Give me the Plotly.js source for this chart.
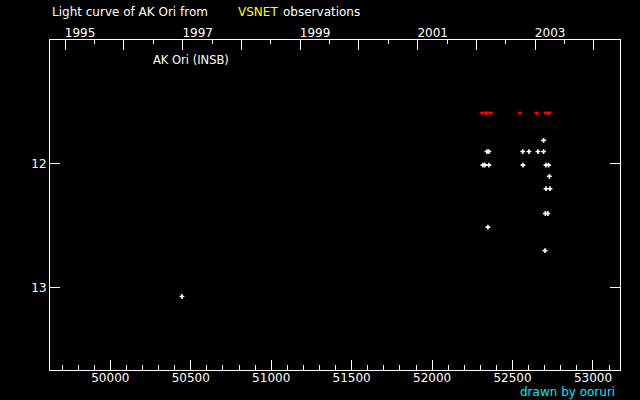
<!DOCTYPE html>
<html>
<head>
<meta charset="utf-8">
<script src="https://cdn.plot.ly/plotly-3.0.1.min.js"></script>
<style>html,body{margin:0;padding:0;background:#000;}#chart{width:640px;height:400px;}</style>
</head>
<body>
<div id="chart"></div>
<script>
// Observations (JD - 2400000, visual magnitude)
var obsJD  = [50445, 52693, 52341, 52353, 52563, 52602, 52658, 52693, 52316, 52328, 52353, 52565, 52708, 52724, 52729, 52708, 52733, 52704, 52720, 52347, 52702];
var obsMag = [13.07, 11.81, 11.90, 11.90, 11.90, 11.90, 11.90, 11.90, 12.01, 12.01, 12.01, 12.01, 12.01, 12.01, 12.10, 12.20, 12.20, 12.40, 12.40, 12.51, 12.70];
// Fainter-than (upper limit) observations
var limJD  = [52310, 52333, 52342, 52364, 52546, 52650, 52706, 52720, 52728];
var limMag = [11.59, 11.59, 11.59, 11.59, 11.59, 11.59, 11.59, 11.59, 11.59];
// Year axis
var yearJD    = [49718.5, 50083.5, 50449.5, 50814.5, 51179.5, 51544.5, 51910.5, 52275.5, 52640.5, 53005.5];
var yearText  = ['1995', '', '1997', '', '1999', '', '2001', '', '2003', ''];
var halfYearJD = [49900, 50266, 50632, 50997, 51362, 51727, 52093, 52458, 52823];
var magTicks = [12, 13];
var magTickText = ['12', '13'];

var xr = [49625, 53168];
var fnt = {family: 'DejaVu Sans, sans-serif', size: 12, color: '#ffffff'};

var traces = [
  {x: limJD, y: limMag, type: 'scatter', mode: 'markers',
   marker: {symbol: 'triangle-down', size: 5, color: '#ff0000', line: {width: 0}},
   hoverinfo: 'none', showlegend: false},
  {x: obsJD, y: obsMag, type: 'scatter', mode: 'markers',
   marker: {symbol: 'cross', size: 4, color: '#ffffff', line: {width: 0}},
   hoverinfo: 'none', showlegend: false},
  {x: [xr[0]], y: [13.5], xaxis: 'x2', yaxis: 'y', type: 'scatter', mode: 'markers',
   marker: {opacity: 0}, hoverinfo: 'none', showlegend: false}
];

var layout = {
  width: 640, height: 400,
  margin: {l: 50, r: 20, t: 40, b: 30},
  paper_bgcolor: '#000000', plot_bgcolor: '#000000',
  font: fnt,
  showlegend: false,
  xaxis: {
    range: xr, showgrid: false, zeroline: false,
    showline: true, linecolor: '#ffffff', linewidth: 1, mirror: true,
    ticks: 'inside', ticklen: 10, tickcolor: '#ffffff', tickwidth: 1,
    tickmode: 'linear', tick0: 50000, dtick: 500, tickformat: 'd',
    ticklabelstandoff: -3,
    minor: {ticks: 'inside', ticklen: 5, tickcolor: '#ffffff', dtick: 100, tick0: 50000, showgrid: false},
    tickfont: fnt
  },
  xaxis2: {
    range: xr, overlaying: 'x', side: 'top', anchor: 'y',
    showgrid: false, zeroline: false, showline: false,
    ticks: 'inside', ticklen: 10, tickcolor: '#ffffff', tickwidth: 1,
    tickmode: 'array', tickvals: yearJD, ticktext: yearText,
    ticklabelshift: 15,
    minor: {ticks: 'inside', ticklen: 4, tickcolor: '#ffffff', tickvals: halfYearJD, showgrid: false},
    tickfont: fnt
  },
  yaxis: {
    range: [13.663, 11.0], showgrid: false, zeroline: false,
    showline: true, linecolor: '#ffffff', linewidth: 1, mirror: 'ticks',
    ticks: 'inside', ticklen: 10, tickcolor: '#ffffff', tickwidth: 1,
    tickmode: 'array', tickvals: magTicks, ticktext: magTickText,
    tickfont: fnt
  },
  annotations: [
    {text: 'Light curve of AK Ori from', xref: 'paper', yref: 'paper', x: 0, y: 1.084,
     xanchor: 'left', yanchor: 'middle', showarrow: false, font: {family: 'DejaVu Sans, sans-serif', size: 12, color: '#ffffff'}},
    {text: 'VSNET', xref: 'paper', yref: 'paper', x: 0.326, y: 1.084,
     xanchor: 'left', yanchor: 'middle', showarrow: false, font: {family: 'DejaVu Sans, sans-serif', size: 12, color: '#ffff00'}},
    {text: 'observations', xref: 'paper', yref: 'paper', x: 0.406, y: 1.084,
     xanchor: 'left', yanchor: 'middle', showarrow: false, font: {family: 'DejaVu Sans, sans-serif', size: 12, color: '#ffffff'}},
    {text: 'AK Ori (INSB)', xref: 'paper', yref: 'paper', x: 0.1767, y: 0.938,
     xanchor: 'left', yanchor: 'middle', showarrow: false, font: {family: 'DejaVu Sans, sans-serif', size: 11.5, color: '#ffffff'}},
    {text: 'drawn by ooruri', xref: 'paper', yref: 'paper', x: 0.9956, y: -0.066,
     xanchor: 'right', yanchor: 'middle', showarrow: false, font: {family: 'DejaVu Sans, sans-serif', size: 12, color: '#00e8ff'}}
  ]
};

Plotly.newPlot('chart', traces, layout, {staticPlot: true, displayModeBar: false});
</script>
</body>
</html>
